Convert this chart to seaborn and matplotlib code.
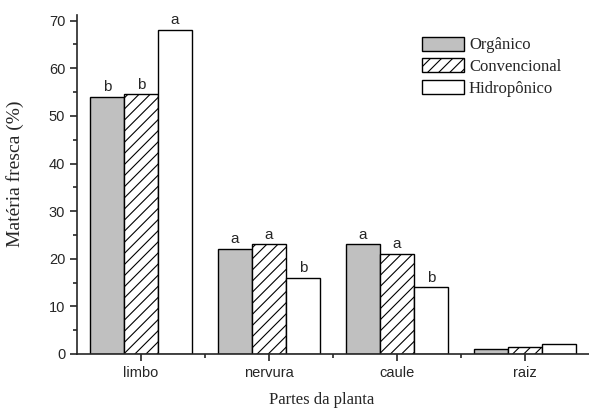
import matplotlib
matplotlib.use("Agg")
import matplotlib.pyplot as plt
import seaborn as sns
import pandas as pd
from matplotlib.ticker import MultipleLocator

# Fresh-matter share by plant part and cultivation system
partes = ["limbo", "nervura", "caule", "raiz"]
sistemas = ["Orgânico", "Convencional", "Hidropônico"]
organico = [54.0, 22.0, 23.0, 1.0]
convencional = [54.5, 23.0, 21.0, 1.5]
hidroponico = [68.0, 16.0, 14.0, 2.0]
letras_organico = ["b", "a", "a", ""]
letras_convencional = ["b", "a", "a", ""]
letras_hidroponico = ["a", "b", "b", ""]

letras = [letras_organico, letras_convencional, letras_hidroponico]

df = pd.DataFrame({
    "parte": partes * 3,
    "sistema": [s for s in sistemas for _ in partes],
    "valor": organico + convencional + hidroponico,
})

sns.set_style("ticks")
plt.rcParams["hatch.linewidth"] = 0.8

fig = plt.figure(figsize=(5.89, 4.08), dpi=100)
ax = fig.add_axes([0.1307, 0.1324, 0.8693, 0.8309])

cores = {"Orgânico": "#c0c0c0", "Convencional": "white", "Hidropônico": "white"}
sns.barplot(data=df, x="parte", y="valor", hue="sistema", order=partes,
            hue_order=sistemas, palette=cores, width=0.8, dodge=True,
            edgecolor="black", linewidth=1.0, saturation=1, ax=ax,
            legend=False)

hachuras = ["", "///", ""]
for cont, h, lab in zip(ax.containers, hachuras, letras):
    for p in cont.patches:
        p.set_hatch(h)
        p.set_edgecolor("black")
    ax.bar_label(cont, labels=lab, padding=2, fontsize=11,
                 family="Liberation Sans")

ax.set_xlim(-0.5, 3.5)
ax.set_ylim(0, 71.2)
ax.yaxis.set_major_locator(MultipleLocator(10))
ax.yaxis.set_minor_locator(MultipleLocator(5))
ax.set_xticks([0.5, 1.5, 2.5], minor=True)
ax.tick_params(axis="both", which="major", direction="out", length=5,
               width=1.2, labelsize=10.5)
ax.tick_params(axis="both", which="minor", direction="out", length=3,
               width=1.2)
for lbl in ax.get_xticklabels() + ax.get_yticklabels():
    lbl.set_family("Liberation Sans")

for s in ["top", "right"]:
    ax.spines[s].set_visible(False)
for s in ["left", "bottom"]:
    ax.spines[s].set_linewidth(1.2)

ax.set_xlabel("Partes da planta", family="Liberation Serif", fontsize=12)
ax.set_ylabel("Matéria fresca (%)", family="Liberation Serif", fontsize=14)
ax.xaxis.set_label_coords(0.477, -0.112)
ax.yaxis.set_label_coords(-0.103, 0.531)

ax.legend(ax.containers, sistemas, loc="upper right",
          bbox_to_anchor=(0.975, 0.98), frameon=False,
          prop={"family": "Liberation Serif", "size": 12},
          handlelength=2.5, handleheight=0.9, handletextpad=0.3,
          labelspacing=0.3)

fig.savefig("out.png", dpi=100)
